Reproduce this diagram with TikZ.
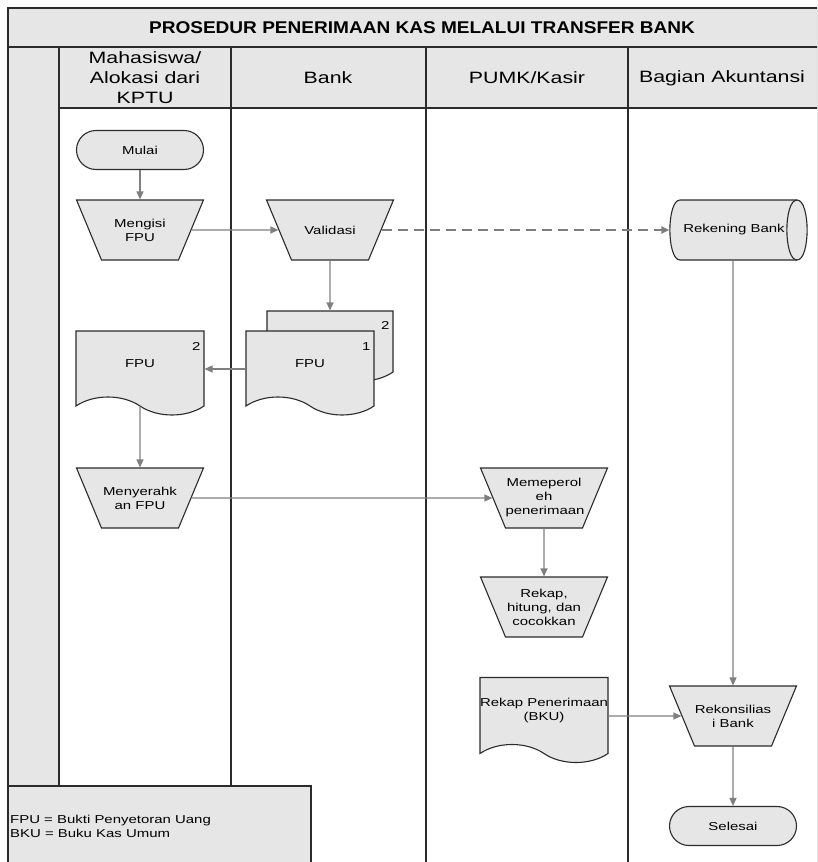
\documentclass[tikz,border=0pt]{standalone}
\usepackage{fontspec}
\setmainfont[FakeStretch=1.3]{Liberation Sans}
\newfontfamily\judul[FakeStretch=1.12]{Liberation Sans}
\usetikzlibrary{shapes.geometric,shapes.symbols,arrows.meta}
\definecolor{abu}{HTML}{E6E6E6}
\definecolor{garis}{HTML}{2B2B2B}
\definecolor{panah}{HTML}{7F7F7F}
\newcommand{\isian}[1]{\parbox[c][44pt][c]{77pt}{\centering #1}}
\begin{document}
\begin{tikzpicture}[x=1pt,y=-1pt,
	teks/.style={font=\fontsize{11.5}{14}\selectfont, align=center, inner sep=0pt},
	kepala/.style={font=\fontsize{16.4}{20}\selectfont, align=center, inner sep=0pt},
	tepi/.style={draw=garis, fill=abu, line width=1.1pt},
	bentuk/.style={teks, tepi},
	terminal/.style={bentuk, rounded corners=19.5pt, minimum width=127pt, minimum height=39pt},
	manual/.style={bentuk, trapezium, shape border rotate=180, trapezium angle=67.4, inner xsep=0pt, inner ysep=8pt},
	dokumen/.style={bentuk, tape, tape bend top=none, tape bend bottom=out and in, tape bend height=18pt, minimum width=128pt, minimum height=84pt},
	alur/.style={draw=panah, line width=1.3pt, -{Triangle[length=8pt,width=7pt]}},
	lajur/.style={draw=garis, line width=1.6pt}]
	\useasboundingbox (0,0) rectangle (817,862);
	\clip (0,0) rectangle (817,862);
	\fill[abu] (8,8) rectangle (818,108);
	\fill[abu] (8,47) rectangle (59,786);
	\fill[abu] (8,786) rectangle (311,870);
	\draw[lajur] (8,870) -- (8,8) -- (818,8) -- (818,870);
	\draw[lajur] (8,47) -- (818,47);
	\draw[lajur] (59,47) -- (59,786);
	\draw[lajur] (59,108) -- (818,108);
	\draw[lajur] (231,47) -- (231,786);
	\draw[lajur] (426,47) -- (426,870);
	\draw[lajur] (628,47) -- (628,870);
	\draw[lajur] (8,786) -- (311,786) -- (311,870);
	\node[font=\judul\bfseries\fontsize{17}{20}\selectfont, inner sep=0pt] (judul) at (422,28) {PROSEDUR PENERIMAAN KAS MELALUI TRANSFER BANK};
	\node[kepala] (hMhs) at (145,78) {Mahasiswa/\\Alokasi dari\\KPTU};
	\node[kepala] (hBank) at (328,78) {Bank};
	\node[kepala] (hPumk) at (527,78) {PUMK/Kasir};
	\node[kepala] (hAkun) at (722,78) {Bagian Akuntansi};
	\node[terminal] (mulai) at (140,150) {Mulai};
	\node[manual] (isi) at (140,230) {\isian{Mengisi\\FPU}};
	\node[manual] (valid) at (330,230) {\isian{Validasi}};
	\filldraw[tepi] (680,200) -- (797,200) .. controls (810.5,200) and (810.5,260) .. (797,260) -- (680,260) .. controls (666.5,260) and (666.5,200) .. (680,200) -- cycle
		(734,230) node[teks, minimum width=128pt, minimum height=60pt] (rek) {Rekening Bank};
	\draw[tepi, fill=none] (797,200) .. controls (783.5,200) and (783.5,260) .. (797,260);
	\node[dokumen, minimum width=126pt, minimum height=70pt] (fpuB) at (330,337) {};
	\node[teks, anchor=north east] (noB) at ([xshift=-4pt,yshift=-11pt]fpuB.north east) {2};
	\node[dokumen] (fpu1) at (310,364) {FPU};
	\node[teks, anchor=north east] (no1) at ([xshift=-4pt,yshift=-12pt]fpu1.north east) {1};
	\node[dokumen] (fpuA) at (140,364) {FPU};
	\node[teks, anchor=north east] (noA) at ([xshift=-4pt,yshift=-12pt]fpuA.north east) {2};
	\node[manual] (serah) at (140,498) {\isian{Menyerahk\\an FPU}};
	\node[manual] (oleh) at (544,498) {\isian{Memeperol\\eh\\penerimaan}};
	\node[manual] (rekap) at (544,607) {\isian{Rekap,\\hitung, dan\\cocokkan}};
	\node[dokumen, minimum height=85pt] (bku) at (544,711) {Rekap Penerimaan\\(BKU)};
	\node[manual] (rekon) at (733,716) {\isian{Rekonsilias\\i Bank}};
	\node[terminal] (selesai) at (733,826) {Selesai};
	\node[teks, anchor=west, align=left] (ket) at (10,826) {FPU = Bukti Penyetoran Uang\\BKU = Buku Kas Umum};
	\draw[alur] (mulai) -- (isi);
	\draw[alur] (isi) -- (valid);
	\draw[alur, line width=2.6pt, dash pattern=on 10pt off 6pt] (valid) -- (rek);
	\draw[alur] (valid) -- (fpuB);
	\draw[alur] ([yshift=-5pt]fpu1.west) -- ([yshift=-5pt]fpu1.west -| fpuA.east);
	\draw[alur] (fpuA) -- (serah);
	\draw[alur] (serah) -- (oleh);
	\draw[alur] (oleh) -- (rekap);
	\draw[alur] (bku.east |- rekon) -- (rekon);
	\draw[alur] (rekon.north |- rek.south) -- (rekon);
	\draw[alur] (rekon) -- (selesai);
\end{tikzpicture}
\end{document}
